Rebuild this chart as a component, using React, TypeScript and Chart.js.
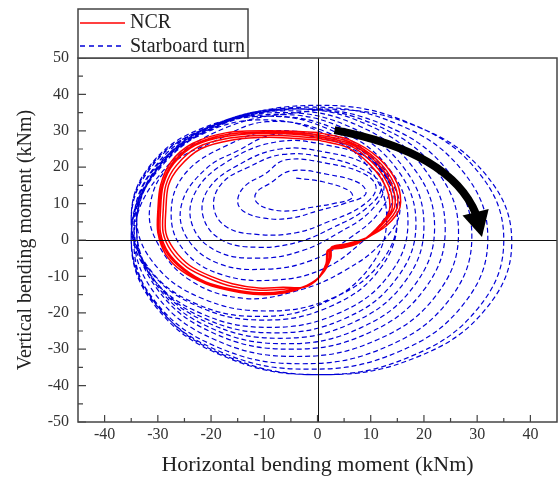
import React, { useEffect, useRef } from "react";
import { Chart, registerables } from "chart.js";

Chart.register(...registerables);

// ---- axis ticks ----
const xTickValues = [-40, -30, -20, -10, 0, 10, 20, 30, 40];
const yTickValues = [-50, -40, -30, -20, -10, 0, 10, 20, 30, 40, 50];
const xMinorTicks = [-35, -25, -15, -5, 5, 15, 25, 35];
const yMinorTicks = [-45, -35, -25, -15, -5, 5, 15, 25, 35, 45];

// ---- NCR cycles (horizontal, vertical) ----
const ncrCycle1: number[][] = [[0,29.5],[6,27.5],[11.5,22.5],[15,15.5],[15.5,9],[13,4],[9,0.5],[5.5,-1],[3.2,-1.6],[2.6,-2],[2.5,-5],[0.8,-9.5],[-2,-12.5],[-6,-14.5],[-11,-15],[-16,-14],[-21,-12],[-25.5,-8.5],[-28.5,-4],[-30,2],[-30,8],[-29.5,15],[-27.5,21.5],[-23.5,26.5],[-17,29.5],[-9,30],[0,29.5]];
const ncrCycle2: number[][] = [[0,29],[6,27],[11.2,22],[14.5,15.2],[15,9],[12.5,4],[8.8,0.2],[5.2,-1.2],[3.1,-1.8],[2.5,-2.2],[2.3,-5.2],[0.6,-9.8],[-2,-12.5],[-6,-14.2],[-11,-14.8],[-16,-13.8],[-21,-11.8],[-25.2,-8.2],[-28.2,-3.8],[-29.8,2],[-29.8,8],[-29.2,15],[-27.2,21.2],[-23.2,26.2],[-17,29],[-9,29.6],[0,29]];
const ncrCycle3: number[][] = [[0,28.5],[6,26.5],[11,21.5],[14,15],[14.5,9],[12,4],[8.5,0],[5,-1.5],[3,-2],[2.3,-2.5],[2.2,-5.5],[0.5,-10],[-2,-12.5],[-6,-14],[-11,-14.5],[-16,-13.5],[-21,-11.5],[-25,-8],[-28,-3.5],[-29.5,2],[-29.5,8],[-29,15],[-27,21],[-23,26],[-17,28.5],[-9,29.3],[0,28.5]];
const ncrCycle4: number[][] = [[0,28],[6,26],[10.5,21],[13.5,14.5],[14,8.5],[11.5,3.5],[8,-0.5],[4.7,-2],[2.8,-2.3],[2,-2.8],[1.9,-6],[0.2,-10.5],[-2.3,-12.8],[-6.3,-13.5],[-11,-13.8],[-16,-12.8],[-20.5,-10.5],[-24.5,-7.5],[-27.5,-3],[-29,2],[-29,8],[-28.5,15],[-26.5,20.5],[-22.5,25.5],[-16.5,28],[-9,28.8],[0,28]];
const ncrCycle5: number[][] = [[0,27.5],[5.5,25.5],[10,20.5],[13,14],[13.5,8],[11,3],[7.5,-1],[4.3,-2.3],[2.5,-2.5],[1.8,-3],[1.6,-6.5],[-0.2,-11],[-2.5,-13],[-6.5,-13],[-11,-13.2],[-16,-12],[-20,-10],[-24,-7],[-27,-2.5],[-28.5,2],[-28.5,8],[-28,15],[-26,20],[-22,25],[-16,27.5],[-9,28.2],[0,27.5]];

// ---- Starboard turn cycles (horizontal, vertical) ----
const turnCycle1: number[][] = [[-4,17],[1,16],[6,13.5],[6.5,11.5],[3,10],[-1,9],[-5,8],[-9,8.5],[-11.5,10.5],[-11.5,13],[-9,15.5]];
const turnCycle2: number[][] = [[-5,19],[2,18],[8,15.5],[9,12.5],[5,10],[0,8],[-5,6],[-10,6],[-14,8],[-15,11],[-13.5,15],[-10,18]];
const turnCycle3: number[][] = [[-6,22],[2,21],[9,18],[11,14],[8,9],[2,5],[-4,2],[-11,1.5],[-17,3.5],[-19.5,9],[-18,15.5],[-13,20]];
const turnCycle4: number[][] = [[-6.5,23.5],[2,22.5],[9,19],[12,14.5],[9,8.5],[3,3.5],[-3.5,-0.5],[-11,-2],[-18,0],[-21.5,6.5],[-20.5,14],[-15,20.5]];
const turnCycle5: number[][] = [[-7,25],[2,24],[9.5,20.5],[12.5,15],[10,8],[4,2],[-3,-3],[-11,-5],[-19,-3],[-23.5,4],[-23,13],[-17,21.5]];
const turnCycle6: number[][] = [[-7.5,27],[2,26],[10,22],[13.5,15],[11.5,7.5],[6,0.5],[-1,-5.5],[-9.5,-8],[-18.5,-6.5],[-24.5,0.5],[-25.5,10],[-21,19.5],[-15,24.5]];
const turnCycle7: number[][] = [[-8,29],[2,27.5],[10,23],[14,15],[13,7],[8,-1],[1,-8],[-8,-11],[-18,-9.5],[-25,-3],[-27.5,7],[-25,18],[-17,26]];
const turnCycle8: number[][] = [[-8,30],[3.5,27],[12,19],[15.5,9],[12.5,0],[5,-8.5],[-4,-14],[-14,-16],[-24,-11],[-30,-1],[-31.5,9],[-28,20],[-19.5,27]];
const turnCycle9: number[][] = [[-9.5,32.5],[2.75,29],[11.7,19.5],[15,6.5],[11.7,-6.5],[2.75,-16],[-9.5,-19.5],[-21.75,-16],[-30.7,-6.5],[-34,6.5],[-30.7,19.5],[-21.75,29]];
const turnCycle10: number[][] = [[-11,33],[1,29.4],[9.8,19.5],[13,6],[9.8,-7.5],[1,-17.4],[-11,-21],[-23,-17.4],[-31.8,-7.5],[-35,6],[-31.8,19.5],[-23,29.4]];
const turnCycle11: number[][] = [[-10,34],[2.5,30.2],[11.7,20],[15,6],[11.7,-8],[2.5,-18.2],[-10,-22],[-22.5,-18.2],[-31.7,-8],[-35,6],[-31.7,20],[-22.5,30.2]];
const turnCycle12: number[][] = [[-9,34],[4,30.1],[13.5,19.5],[17,5],[13.5,-9.5],[4,-20.1],[-9,-24],[-22,-20.1],[-31.5,-9.5],[-35,5],[-31.5,19.5],[-22,30.1]];
const turnCycle13: number[][] = [[-8,34.5],[5.25,30.5],[14.9,19.5],[18.5,4.5],[14.9,-10.5],[5.25,-21.5],[-8,-25.5],[-21.25,-21.5],[-30.9,-10.5],[-34.5,4.5],[-30.9,19.5],[-21.25,30.5]];
const turnCycle14: number[][] = [[-7,35],[6.5,30.8],[16.4,19.5],[20,4],[16.4,-11.5],[6.5,-22.8],[-7,-27],[-20.5,-22.8],[-30.4,-11.5],[-34,4],[-30.4,19.5],[-20.5,30.8]];
const turnCycle15: number[][] = [[-6,35.5],[8,31.2],[18.2,19.5],[22,3.5],[18.2,-12.5],[8,-24.2],[-6,-28.5],[-20,-24.2],[-30.2,-12.5],[-34,3.5],[-30.2,19.5],[-20,31.2]];
const turnCycle16: number[][] = [[-5,36],[9.5,31.6],[20.1,19.5],[24,3],[20.1,-13.5],[9.5,-25.6],[-5,-30],[-19.5,-25.6],[-30.1,-13.5],[-34,3],[-30.1,19.5],[-19.5,31.6]];
const turnCycle17: number[][] = [[-4,36],[11.25,31.4],[22.4,19],[26.5,2],[22.4,-15],[11.25,-27.4],[-4,-32],[-19.25,-27.4],[-30.4,-15],[-34.5,2],[-30.4,19],[-19.25,31.4]];
const turnCycle18: number[][] = [[-3,36],[13,31.3],[24.7,18.5],[29,1],[24.7,-16.5],[13,-29.3],[-3,-34],[-19,-29.3],[-30.7,-16.5],[-35,1],[-30.7,18.5],[-19,31.3]];
const turnCycle19: number[][] = [[-1.5,36.5],[15.25,31.7],[27.5,18.5],[32,0.5],[27.5,-17.5],[15.25,-30.7],[-1.5,-35.5],[-18.25,-30.7],[-30.5,-17.5],[-35,0.5],[-30.5,18.5],[-18.25,31.7]];
const turnCycle20: number[][] = [[0,37],[17.5,32],[30.3,18.5],[35,0],[30.3,-18.5],[17.5,-32],[0,-37],[-17.5,-32],[-30.3,-18.5],[-35,0],[-30.3,18.5],[-17.5,32]];
const turnCycle21: number[][] = [[1,36],[18.8,31.1],[31.7,17.8],[36.5,-0.5],[31.7,-18.8],[18.8,-32.1],[1,-37],[-16.8,-32.1],[-29.7,-18.8],[-34.5,-0.5],[-29.7,17.8],[-16.8,31.1],[1,36]];

// ---- direction arrow (data units) ----
const arrowStart = [3.2, 30.2];
const arrowControl = [25, 24.2];
const arrowShaftEnd = [29.8, 7.1];
const arrowTip = [30.9, 0.8];

const seriesLabels = ["NCR", "Starboard turn"];
const FONT = "'Liberation Serif', 'Times New Roman', serif";

const toPts = (cycles: number[][][]) =>
  cycles.flat().map(([x, y]) => ({ x, y }));

const decorPlugin = {
  id: "decor",
  afterDatasetsDraw(chart: any) {
    const { ctx, chartArea: a, scales } = chart;
    const xs = scales.x, ys = scales.y;
    const P = (p: number[]) => ({ x: xs.getPixelForValue(p[0]), y: ys.getPixelForValue(p[1]) });
    ctx.save();
    // zero lines
    ctx.strokeStyle = "#111";
    ctx.lineWidth = 1;
    const x0 = Math.round(xs.getPixelForValue(0)) + 0.5;
    const y0 = Math.round(ys.getPixelForValue(0)) + 0.5;
    ctx.beginPath();
    ctx.moveTo(x0, a.top); ctx.lineTo(x0, a.bottom);
    ctx.moveTo(a.left, y0); ctx.lineTo(a.right, y0);
    ctx.stroke();

    // arrow
    const p0 = P(arrowStart), c = P(arrowControl), p1 = P(arrowShaftEnd), tip = P(arrowTip);
    ctx.strokeStyle = "#000";
    ctx.fillStyle = "#000";
    ctx.lineWidth = 8;
    ctx.lineCap = "butt";
    ctx.beginPath();
    ctx.moveTo(p0.x, p0.y);
    ctx.quadraticCurveTo(c.x, c.y, p1.x, p1.y);
    ctx.stroke();
    const dx = tip.x - p1.x, dy = tip.y - p1.y;
    const len = Math.hypot(dx, dy) || 1;
    const nx = -dy / len, ny = dx / len;
    const hw = 13.5;
    ctx.beginPath();
    ctx.moveTo(p1.x + nx * hw - dx / len * 2, p1.y + ny * hw - dy / len * 2);
    ctx.lineTo(tip.x, tip.y);
    ctx.lineTo(p1.x - nx * hw - dx / len * 2, p1.y - ny * hw - dy / len * 2);
    ctx.closePath();
    ctx.fill();

    // frame
    ctx.strokeStyle = "#444";
    ctx.lineWidth = 1.5;
    ctx.strokeRect(a.left, a.top, a.right - a.left, a.bottom - a.top);

    // tick marks (inside)
    ctx.lineWidth = 1.2;
    ctx.beginPath();
    xTickValues.forEach((v) => { const px = xs.getPixelForValue(v); ctx.moveTo(px, a.bottom); ctx.lineTo(px, a.bottom - 7); });
    xMinorTicks.forEach((v) => { const px = xs.getPixelForValue(v); ctx.moveTo(px, a.bottom); ctx.lineTo(px, a.bottom - 4); });
    yTickValues.forEach((v) => { const py = ys.getPixelForValue(v); ctx.moveTo(a.left, py); ctx.lineTo(a.left + 8, py); });
    yMinorTicks.forEach((v) => { const py = ys.getPixelForValue(v); ctx.moveTo(a.left, py); ctx.lineTo(a.left + 5, py); });
    ctx.stroke();

    // legend box
    const lx = a.left, ly = a.top - 49, lw = 170, lh = 49;
    ctx.fillStyle = "#fff";
    ctx.fillRect(lx, ly, lw, lh);
    ctx.strokeStyle = "#444";
    ctx.lineWidth = 1.5;
    ctx.strokeRect(lx, ly, lw, lh);
    const ds = chart.data.datasets;
    ctx.lineWidth = 1.5;
    ctx.strokeStyle = ds[0].borderColor;
    ctx.setLineDash([]);
    ctx.beginPath(); ctx.moveTo(lx + 2, ly + 14); ctx.lineTo(lx + 47, ly + 14); ctx.stroke();
    ctx.strokeStyle = ds[1].borderColor;
    ctx.setLineDash([5, 4]);
    ctx.beginPath(); ctx.moveTo(lx + 2, ly + 37); ctx.lineTo(lx + 47, ly + 37); ctx.stroke();
    ctx.setLineDash([]);
    ctx.fillStyle = "#222";
    ctx.font = `20px ${FONT}`;
    ctx.textBaseline = "alphabetic";
    ctx.textAlign = "left";
    ctx.fillText(ds[0].label, lx + 52, ly + 19);
    ctx.fillText(ds[1].label, lx + 52, ly + 43);
    ctx.restore();
  },
};

export default function App() {
  const ref = useRef<HTMLCanvasElement | null>(null);
  useEffect(() => {
    if (!ref.current) return;
    const chart = new Chart(ref.current, {
      type: "scatter",
      data: {
        datasets: [
          {
            label: seriesLabels[0],
            data: toPts([ncrCycle1, ncrCycle2, ncrCycle3, ncrCycle4, ncrCycle5]),
            showLine: true,
            borderColor: "#ff0000",
            borderWidth: 1.5,
            pointRadius: 0,
            tension: 0.3,
          },
          {
            label: seriesLabels[1],
            data: toPts([turnCycle1, turnCycle2, turnCycle3, turnCycle4, turnCycle5, turnCycle6, turnCycle7, turnCycle8, turnCycle9, turnCycle10, turnCycle11, turnCycle12, turnCycle13, turnCycle14, turnCycle15, turnCycle16, turnCycle17, turnCycle18, turnCycle19, turnCycle20, turnCycle21]),
            showLine: true,
            borderColor: "rgb(0,0,215)",
            borderWidth: 1.2,
            borderDash: [5, 3],
            pointRadius: 0,
            tension: 0.4,
          },
        ],
      } as any,
      options: {
        responsive: false,
        animation: false,
        layout: { padding: { left: 0, right: 3, top: 58, bottom: 0 } },
        plugins: { legend: { display: false }, tooltip: { enabled: false } },
        scales: {
          x: {
            type: "linear",
            min: -45,
            max: 45,
            afterBuildTicks: (s: any) => { s.ticks = xTickValues.map((v) => ({ value: v })); },
            afterFit: (s: any) => { s.height = 58; },
            grid: { display: false, drawTicks: false },
            border: { display: false },
            ticks: { font: { family: FONT, size: 16 }, color: "#333", padding: 3, autoSkip: false, maxRotation: 0, callback: (v: any) => String(v) },
            title: { display: true, text: "Horizontal bending moment (kNm)", font: { family: FONT, size: 22 }, color: "#222", padding: { top: 0, bottom: 2 } },
          },
          y: {
            type: "linear",
            min: -50,
            max: 50,
            afterBuildTicks: (s: any) => { s.ticks = yTickValues.map((v) => ({ value: v })); },
            afterFit: (s: any) => { s.width = 78; },
            grid: { display: false, drawTicks: false },
            border: { display: false },
            ticks: { font: { family: FONT, size: 16 }, color: "#333", padding: 9, autoSkip: false, callback: (v: any) => String(v) },
            title: { display: true, text: "Vertical bending moment (kNm)", font: { family: FONT, size: 20 }, color: "#222", padding: { top: 14, bottom: 0 } },
          },
        },
      } as any,
      plugins: [decorPlugin],
    });
    return () => chart.destroy();
  }, []);
  return (
    <div style={{ position: "absolute", left: 0, top: 0, width: 560, height: 480, background: "#fff" }}>
      <canvas ref={ref} width={560} height={480} style={{ display: "block" }} />
    </div>
  );
}
